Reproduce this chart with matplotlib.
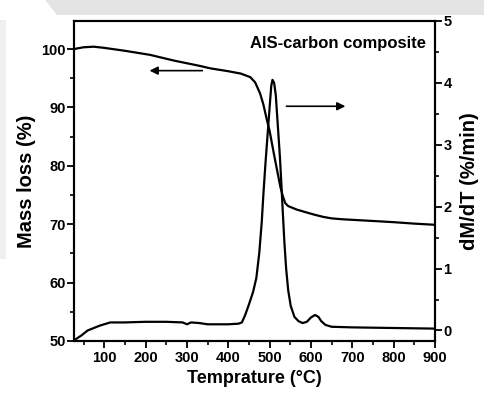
import matplotlib.pyplot as plt
from matplotlib.patches import Polygon
from matplotlib.ticker import MultipleLocator

plt.rcParams['font.family'] = ['Liberation Sans', 'DejaVu Sans']
plt.rcParams['font.weight'] = 'bold'

# Mass loss curve (left axis)
T_mass = [27, 50, 75, 100, 150, 211, 270, 332, 356, 400, 430, 453, 465, 477, 485,
          493, 500, 510, 518, 526, 532, 538, 545, 566, 590, 610, 630, 650, 675,
          700, 751, 800, 850, 900]
mass = [100.0, 100.3, 100.4, 100.2, 99.7, 99.0, 98.0, 97.1, 96.7, 96.2, 95.8, 95.2,
        94.3, 92.4, 90.5, 88.0, 86.0, 82.2, 79.3, 76.4, 74.8, 73.6, 73.1, 72.5,
        72.0, 71.6, 71.25, 71.0, 70.85, 70.75, 70.55, 70.35, 70.1, 69.9]

# Derivative curve (right axis)
T_dtg = [27, 45, 60, 75, 90, 100, 115, 150, 200, 250, 290, 300, 310, 330, 350,
         400, 425, 433, 441, 450, 460, 468, 475, 481, 485, 490, 495, 500, 504,
         507, 511, 515, 520, 525, 529, 532, 536, 540, 545, 551, 560, 570, 580,
         590, 600, 610, 618, 625, 635, 650, 700, 800, 900]
dtg = [-0.16, -0.08, 0.0, 0.04, 0.08, 0.1, 0.13, 0.13, 0.14, 0.14, 0.13, 0.1,
       0.13, 0.12, 0.1, 0.1, 0.11, 0.13, 0.25, 0.42, 0.62, 0.85, 1.25, 1.75,
       2.2, 2.7, 3.15, 3.6, 3.95, 4.05, 4.0, 3.8, 3.3, 2.8, 2.3, 1.9, 1.4, 1.0,
       0.65, 0.4, 0.22, 0.15, 0.12, 0.14, 0.21, 0.25, 0.22, 0.15, 0.09, 0.06,
       0.05, 0.04, 0.03]

fig = plt.figure(figsize=(4.85, 3.99), dpi=100)

# faint grey background shapes
fig.patches.append(Polygon([[45 / 485, 1], [1, 1], [1, 1 - 15 / 399], [57 / 485, 1 - 15 / 399]],
                           closed=True, transform=fig.transFigure, facecolor='#e4e4e4',
                           edgecolor='none', zorder=0))
fig.patches.append(Polygon([[0, 1 - 20 / 399], [6 / 485, 1 - 20 / 399], [6 / 485, 140 / 399], [0, 140 / 399]],
                           closed=True, transform=fig.transFigure, facecolor='#efefef',
                           edgecolor='none', zorder=0))

ax = fig.add_axes([74 / 485, 58 / 399, 361 / 485, 320 / 399])
ax.patch.set_alpha(0)
ax2 = ax.twinx()

ax.plot(T_mass, mass, color='black', lw=1.6)
ax2.plot(T_dtg, dtg, color='black', lw=1.6)

ax.set_xlim(27, 900)
ax.set_ylim(50, 104.8)
ax2.set_ylim(-0.17, 5)

ax.xaxis.set_major_locator(MultipleLocator(100))
ax.xaxis.set_minor_locator(MultipleLocator(50))
ax.yaxis.set_major_locator(MultipleLocator(10))
ax.yaxis.set_minor_locator(MultipleLocator(5))
ax2.yaxis.set_major_locator(MultipleLocator(1))
ax2.yaxis.set_minor_locator(MultipleLocator(0.5))

for a in (ax, ax2):
    a.tick_params(which='major', direction='out', length=5, width=1.3, labelsize=10.5)
    a.tick_params(which='minor', direction='out', length=3, width=1.2)
    for s in a.spines.values():
        s.set_linewidth(1.5)
ax.tick_params(axis='x', pad=2)
ax.tick_params(axis='y', pad=1)
ax2.tick_params(axis='y', pad=1)

ax.set_xticks([100, 200, 300, 400, 500, 600, 700, 800, 900])
ax.set_xlabel('Temprature (°C)', fontsize=13, fontweight='bold', labelpad=4)
ax.set_ylabel('Mass loss (%)', fontsize=14.5, fontweight='bold', labelpad=4)
ax2.set_ylabel('dM/dT (%/min)', fontsize=14.5, fontweight='bold', labelpad=6)

ax.text(0.975, 0.93, 'AlS-carbon composite', transform=ax.transAxes, ha='right',
        va='center', fontsize=12, fontweight='bold')

ax.annotate('', xy=(203, 96.3), xytext=(344, 96.3),
            arrowprops=dict(arrowstyle='-|>', color='black', lw=1.2, mutation_scale=12))
ax.annotate('', xy=(690, 90.2), xytext=(534, 90.2),
            arrowprops=dict(arrowstyle='-|>', color='black', lw=1.2, mutation_scale=12))

fig.savefig('out.png', dpi=100)
